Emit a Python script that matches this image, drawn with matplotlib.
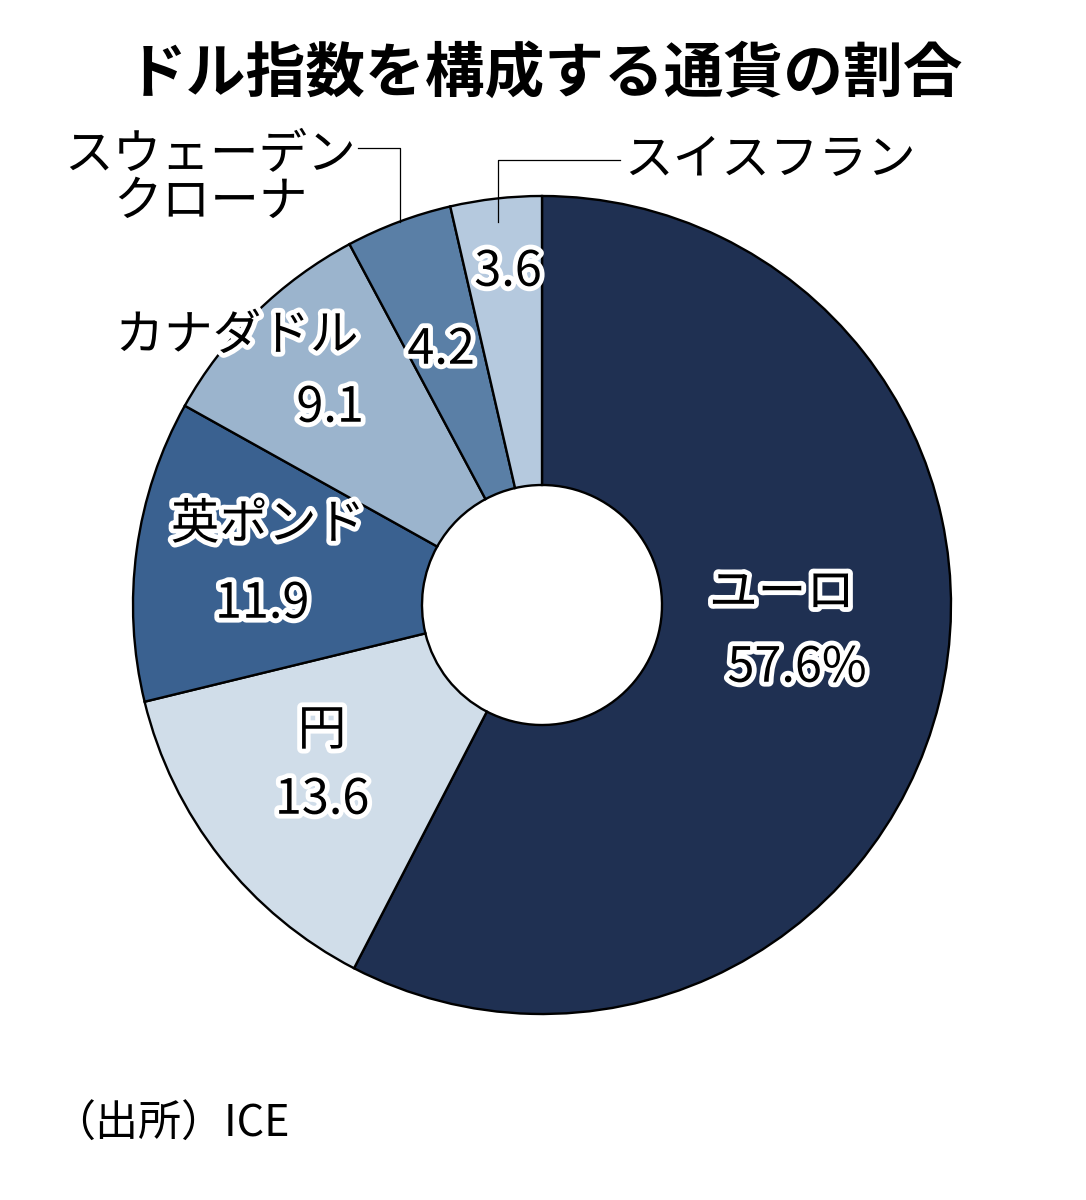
import matplotlib.pyplot as plt
import matplotlib.patheffects as pe

plt.rcParams['font.family'] = ['Noto Sans CJK JP', 'DejaVu Sans']

# data
currencies = ['ユーロ', '円', '英ポンド', 'カナダドル', 'スウェーデン\nクローナ', 'スイスフラン']
shares = [57.6, 13.6, 11.9, 9.1, 4.2, 3.6]
value_labels = ['57.6%', '13.6', '11.9', '9.1', '4.2', '3.6']
colors = ['#1f3052', '#d0dde9', '#3a6190', '#9bb4cd', '#5a7fa6', '#b5c9de']

W, H = 1086, 1200
fig = plt.figure(figsize=(W / 100, H / 100), dpi=100)
ax = fig.add_axes([0, 0, 1, 1])

cx, cy = 542, H - 605
R, r = 409, 120

ax.pie(shares, colors=colors, startangle=90, counterclock=False,
       center=(cx, cy), radius=R,
       wedgeprops=dict(width=R - r, edgecolor='black', linewidth=1.7))
ax.set_xlim(0, W)
ax.set_ylim(0, H)
ax.set_aspect('equal')
ax.axis('off')

outline = [pe.withStroke(linewidth=7, foreground='white')]


def txt(x, y, s, size=35, **kw):
    ax.text(x, H - y, s, size=size, ha='center', va='center',
            color='black', path_effects=outline, **kw)


# labels inside slices
txt(782, 593, currencies[0])
txt(797, 668, value_labels[0])
txt(322, 731, currencies[1])
txt(322, 800, value_labels[1])
txt(268, 525, currencies[2])
txt(262, 604, value_labels[2])
txt(237, 336, currencies[3])
txt(330, 408, value_labels[3])
txt(441, 350, value_labels[4])
txt(508, 272, value_labels[5])

# outside labels with leader lines
ax.text(210, H - 178, currencies[4], size=35, ha='center', va='center',
        linespacing=0.95)
ax.plot([358, 400, 400], [H - 148, H - 148, H - 222], color='black', lw=0.9)
ax.text(770, H - 160, currencies[5], size=35, ha='center', va='center')
ax.plot([498, 498, 620], [H - 222, H - 160, H - 160], color='black', lw=0.9)

# title and source
ax.text(545, H - 75, 'ドル指数を構成する通貨の割合', size=43, weight='bold',
        ha='center', va='center')
ax.text(52, H - 1125, '（出所）ICE', size=31, ha='left', va='center')

fig.savefig('out.png', dpi=100)
